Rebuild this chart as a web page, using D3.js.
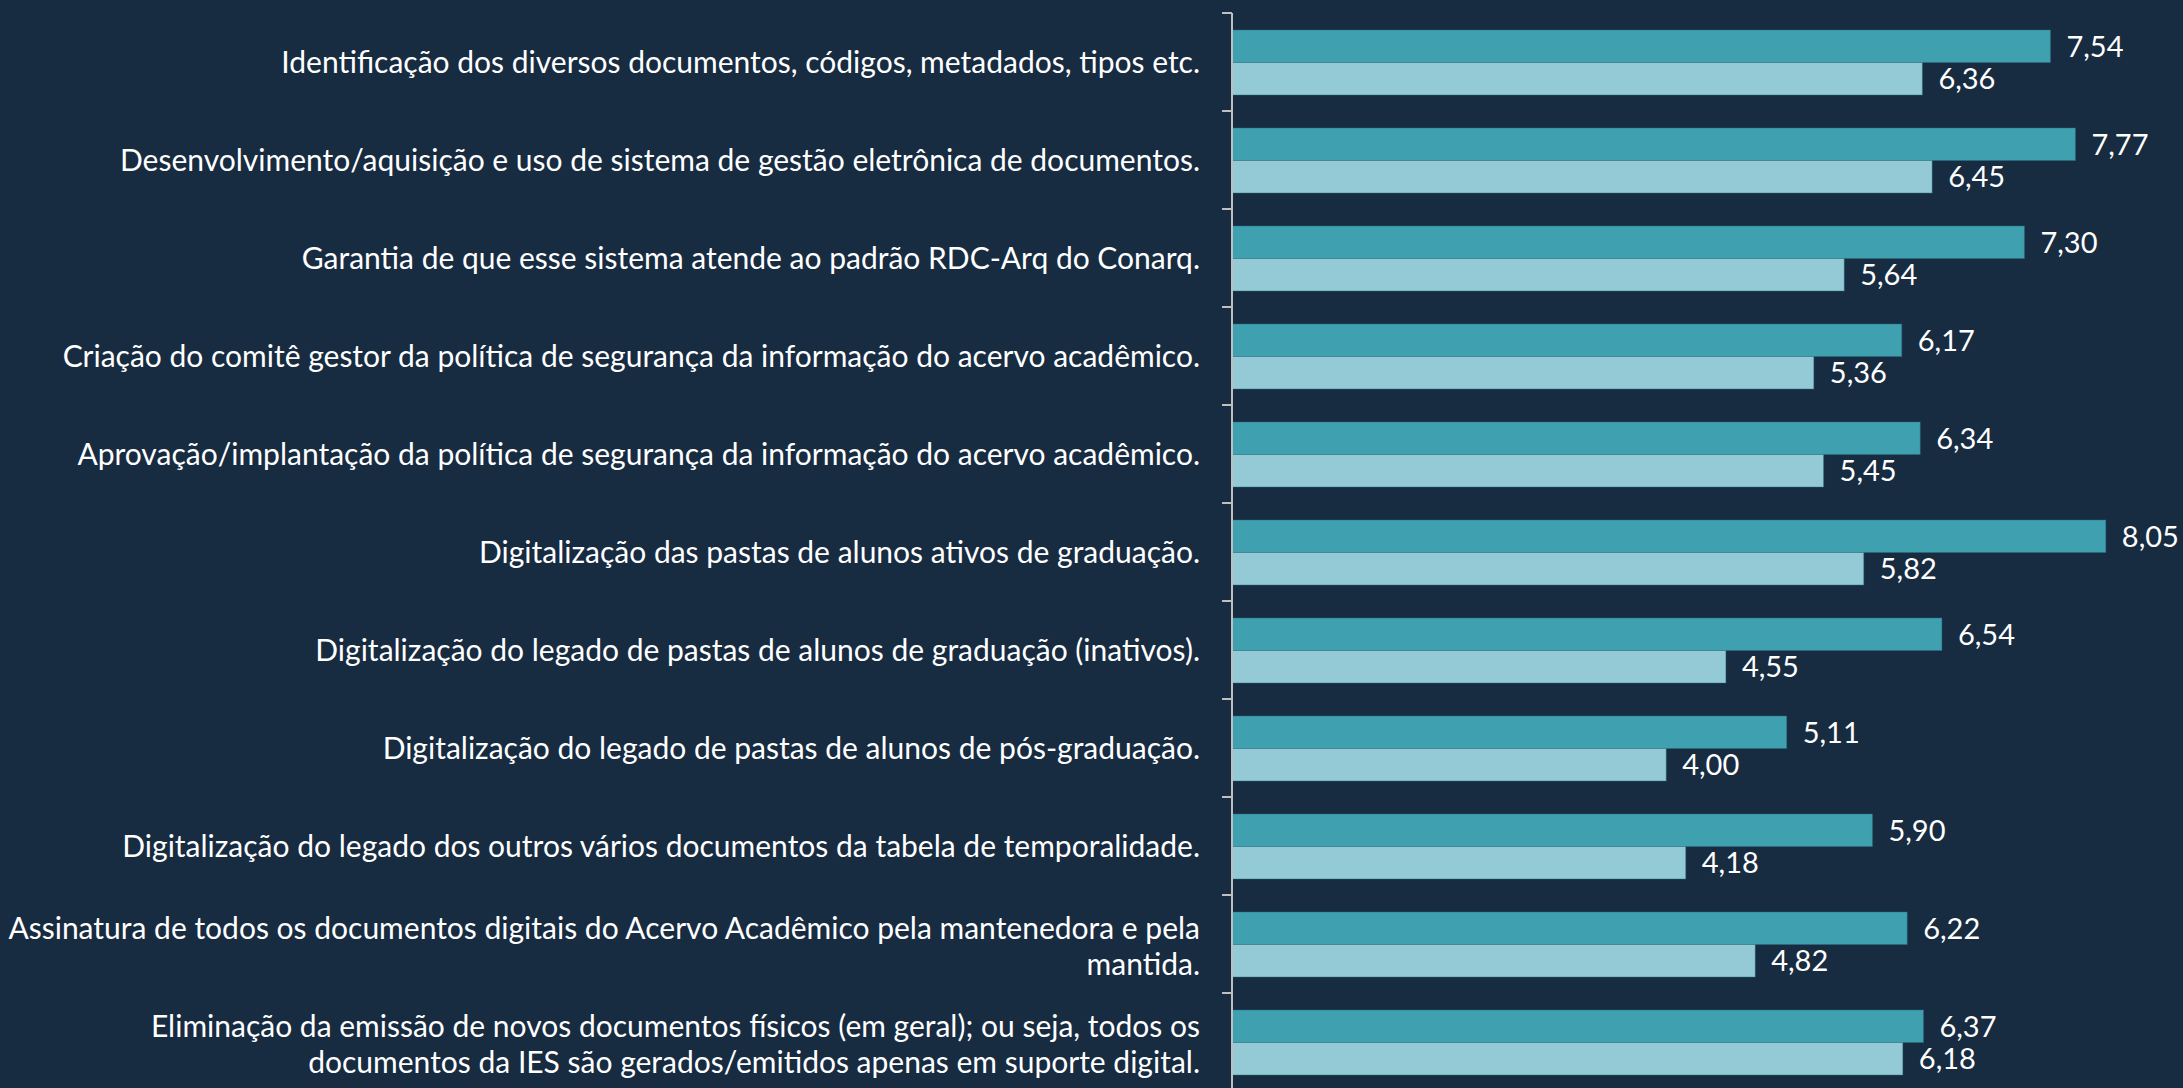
<!DOCTYPE html>
<html>
<head>
<meta charset="utf-8">
<script src="https://cdn.jsdelivr.net/npm/d3@7"></script>
<style>
  html, body { margin: 0; padding: 0; background: #172B41; }
  svg { display: block; }
</style>
</head>
<body>
<svg id="chart"></svg>
<script>
// Category labels (line breaks where the text wraps)
const categories = [
  ["Identificação dos diversos documentos, códigos, metadados, tipos etc."],
  ["Desenvolvimento/aquisição e uso de sistema de gestão eletrônica de documentos."],
  ["Garantia de que esse sistema atende ao padrão RDC-Arq do Conarq."],
  ["Criação do comitê gestor da política de segurança da informação do acervo acadêmico."],
  ["Aprovação/implantação da política de segurança da informação do acervo acadêmico."],
  ["Digitalização das pastas de alunos ativos de graduação."],
  ["Digitalização do legado de pastas de alunos de graduação (inativos)."],
  ["Digitalização do legado de pastas de alunos de pós-graduação."],
  ["Digitalização do legado dos outros vários documentos da tabela de temporalidade."],
  ["Assinatura de todos os documentos digitais do Acervo Acadêmico pela mantenedora e pela", "mantida."],
  ["Eliminação da emissão de novos documentos físicos (em geral); ou seja, todos os", "documentos da IES são gerados/emitidos apenas em suporte digital."]
];

const seriesNames = ["importancia", "situacao"];
const seriesA = [7.54, 7.77, 7.30, 6.17, 6.34, 8.05, 6.54, 5.11, 5.90, 6.22, 6.37];
const seriesB = [6.36, 6.45, 5.64, 5.36, 5.45, 5.82, 4.55, 4.00, 4.18, 4.82, 6.18];

const W = 2183, H = 1088;
const colors = { importancia: "#3FA0AF", situacao: "#93CAD6" };
const bg = "#172B41";

const svg = d3.select("#chart").attr("width", W).attr("height", H);
svg.append("rect").attr("width", W).attr("height", H).attr("fill", bg);

const axisX = 1232;
const keys = categories.map((c, i) => i);

// One band per category, laid out from the top
const y = d3.scaleBand().domain(keys).range([13, 13 + keys.length * 98]).padding(0);
// Two bars inside each band
const y1 = d3.scaleBand().domain(seriesNames).range([17, 82]).padding(0);
const x = d3.scaleLinear().domain([0, 9]).range([axisX, axisX + 9 * 108.55]);

const rows = keys.map(i => ({
  i, lines: categories[i],
  values: [
    { key: "importancia", v: seriesA[i] },
    { key: "situacao", v: seriesB[i] }
  ]
}));

const fmt = v => d3.format(".2f")(v).replace(".", ",");
const font = "Lato, 'Open Sans', sans-serif";

const g = svg.selectAll("g.row").data(rows).join("g")
  .attr("class", "row")
  .attr("transform", d => `translate(0,${y(d.i)})`);

g.selectAll("rect.bar").data(d => d.values).join("rect")
  .attr("class", "bar")
  .attr("x", x(0))
  .attr("y", d => y1(d.key))
  .attr("width", d => x(d.v) - x(0))
  .attr("height", y1.bandwidth())
  .attr("fill", d => colors[d.key])
  .attr("stroke", "#2A6F80")
  .attr("stroke-opacity", 0.45)
  .attr("stroke-width", 1);

g.selectAll("text.val").data(d => d.values).join("text")
  .attr("class", "val")
  .attr("x", d => x(d.v) + 16)
  .attr("y", d => y1(d.key) + y1.bandwidth() / 2)
  .attr("dy", "0.36em")
  .attr("fill", "#FFFFFF")
  .attr("font-family", font)
  .attr("font-size", 29)
  .text(d => fmt(d.v));

// Category labels, right-aligned against the axis
const lineH = 36;
g.append("text")
  .attr("class", "cat")
  .attr("text-anchor", "end")
  .attr("fill", "#FFFFFF")
  .attr("font-family", font)
  .attr("font-size", 30)
  .each(function(d) {
    const n = d.lines.length;
    const t = d3.select(this);
    d.lines.forEach((ln, k) => {
      t.append("tspan")
        .attr("x", 1200)
        .attr("y", y.bandwidth() / 2 + (k - (n - 1) / 2) * lineH + (n > 1 ? 2 : 0))
        .attr("dy", "0.36em")
        .text(ln);
    });
  });

// Vertical category axis with ticks at band edges
const axisColor = "#BFBFBF";
svg.append("line")
  .attr("x1", axisX).attr("x2", axisX)
  .attr("y1", y.range()[0]).attr("y2", H + 10)
  .attr("stroke", axisColor).attr("stroke-width", 2);

svg.selectAll("line.tick").data(keys).join("line")
  .attr("class", "tick")
  .attr("x1", axisX - 10).attr("x2", axisX)
  .attr("y1", d => y(d)).attr("y2", d => y(d))
  .attr("stroke", axisColor).attr("stroke-width", 2);
</script>
</body>
</html>
